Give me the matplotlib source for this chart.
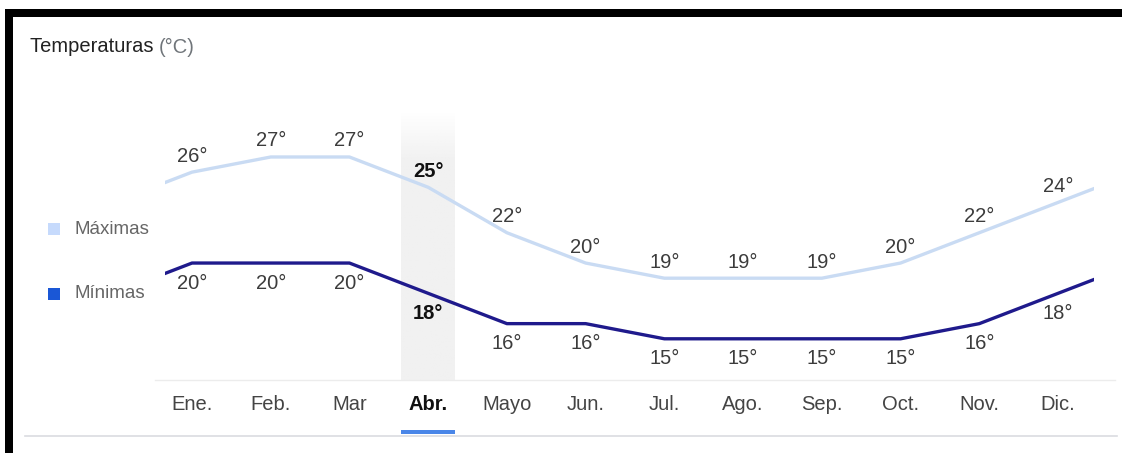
import numpy as np
import matplotlib
matplotlib.use("Agg")
import matplotlib.pyplot as plt
from matplotlib.patches import Rectangle
from matplotlib.lines import Line2D

plt.rcParams['font.family'] = ['Liberation Sans', 'DejaVu Sans']

meses = ['Ene.', 'Feb.', 'Mar', 'Abr.', 'Mayo', 'Jun.', 'Jul.', 'Ago.', 'Sep.', 'Oct.', 'Nov.', 'Dic.']
maximas = [26, 27, 27, 25, 22, 20, 19, 19, 19, 20, 22, 24]
minimas = [20, 20, 20, 18, 16, 16, 15, 15, 15, 15, 16, 18]
mes_actual = 3  # Abr.

W, H = 1122, 453
fig = plt.figure(figsize=(W / 100, H / 100), dpi=100)
fig.patch.set_facecolor('white')


def fx(px):
    return px / W


def fy(py):
    return 1 - py / H


# area del grafico en pixeles
left, right, top, bottom = 165, 1094, 112, 380
xlim = (-0.343, 11.457)
ylim = (12.28, 29.97)
ax = fig.add_axes([fx(left), fy(bottom), fx(right - left), (bottom - top) / H])
ax.axis('off')

# la curva continua en diciembre/enero a los lados
x = np.arange(-1, 13)
y_max = [maximas[-1]] + maximas + [maximas[0]]
y_min = [minimas[-1]] + minimas + [minimas[0]]

# columna del mes actual, con degradado arriba
grad = np.ones((100, 1, 4))
grad[..., :3] = 241 / 255
grad[:, 0, 3] = np.clip(np.linspace(0, 1, 100) / 0.18, 0, 1)
ax.imshow(grad, extent=(mes_actual - 0.34, mes_actual + 0.34, ylim[0], ylim[1]),
          origin='upper', aspect='auto', zorder=0)
ax.set_xlim(*xlim)
ax.set_ylim(*ylim)

ax.plot(x, y_max, color='#c9dbf3', lw=2.4, solid_joinstyle='round', zorder=2)
ax.plot(x, y_min, color='#1f1a8c', lw=2.4, solid_joinstyle='round', zorder=3)

for i in range(12):
    bold = i == mes_actual
    kw = dict(ha='center', va='center', fontsize=14.5, textcoords='offset pixels',
              color='#111111' if bold else '#3c3c3c',
              fontweight='bold' if bold else 'normal', zorder=4)
    ax.annotate(f'{maximas[i]}°', (i, maximas[i]), xytext=(0, 16), **kw)
    ax.annotate(f'{minimas[i]}°', (i, minimas[i]), xytext=(0, -20), **kw)
    ax.annotate(meses[i], (i, 0), xycoords=ax.get_xaxis_transform(),
                xytext=(0, -25), textcoords='offset pixels',
                ha='center', va='center', fontsize=14.5,
                color='#111111' if bold else '#444444',
                fontweight='bold' if bold else 'normal')

# subrayado azul del mes actual
x0 = ax.transData.transform((mes_actual - 0.34, 0))[0]
x1 = ax.transData.transform((mes_actual + 0.34, 0))[0]
fig.add_artist(Rectangle((fx(x0), fy(434)), fx(x1 - x0), 4 / H,
                         color='#4a86e8', lw=0))

# separadores
fig.add_artist(Line2D([fx(155), fx(1115)], [fy(380), fy(380)], color='#ececec', lw=1))
fig.add_artist(Line2D([fx(25), fx(1117)], [fy(436), fy(436)], color='#dadce0', lw=1.2))

# titulo
t = fig.text(fx(30), fy(47), 'Temperaturas ', fontsize=14.5, color='#222222', va='center')
fig.canvas.draw()
bb = t.get_window_extent()
fig.text(bb.x1 / W, fy(47), '(°C)', fontsize=14.5, color='#70757a', va='center')

# leyenda
for label, color, py in [('Máximas', '#c6dafc', 229), ('Mínimas', '#1a57d6', 294)]:
    fig.add_artist(Rectangle((fx(48), fy(py + 6)), fx(12), 12 / H, color=color, lw=0))
    fig.text(fx(74), fy(py), label, fontsize=13.5, color='#666666', va='center')

# marco negro
fig.add_artist(Rectangle((fx(5), fy(17)), fx(W - 5), 8 / H, color='black', lw=0))
fig.add_artist(Rectangle((fx(5), 0), fx(8), fy(9), color='black', lw=0))

fig.savefig('out.png', dpi=100, facecolor='white')
